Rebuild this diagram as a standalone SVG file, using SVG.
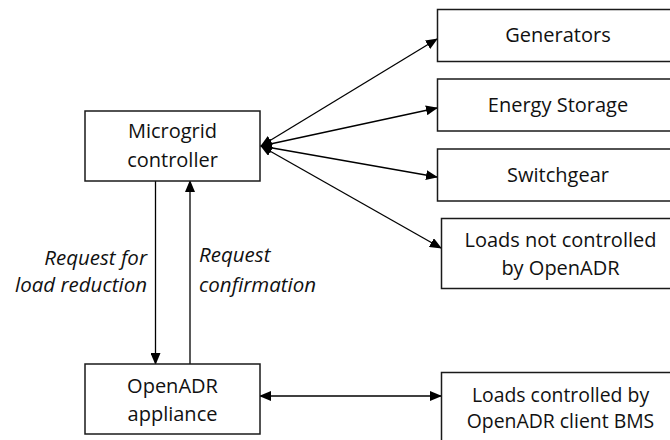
<svg xmlns="http://www.w3.org/2000/svg" width="670" height="440" viewBox="0 0 670 440">
  <style>
    .box { fill: #ffffff; stroke: #1a1a1a; stroke-width: 1.5; }
    .lbl { font-family: "Open Sans", Lato, "Liberation Sans", sans-serif; font-size: 20px; fill: #111111; text-anchor: middle; }
    .sm { font-size: 19.4px; }
    .it { font-family: "Open Sans", Lato, "Liberation Sans", sans-serif; font-size: 20.5px; font-style: italic; fill: #111111; }
    .wire { fill: none; stroke: #000000; stroke-width: 1.3; }
  </style>
  <defs>
    <marker id="tip" viewBox="0 0 12 10" refX="11" refY="5" markerWidth="12" markerHeight="10" markerUnits="userSpaceOnUse" orient="auto-start-reverse">
      <path d="M0,0 L12,5 L0,10 Z" fill="#000000"/>
    </marker>
  </defs>

  <rect width="670" height="440" fill="#ffffff"/>

  <g id="connectors">
    <line class="wire" x1="261" y1="146" x2="437" y2="39" marker-start="url(#tip)" marker-end="url(#tip)"/>
    <line class="wire" x1="261" y1="146" x2="437" y2="108" marker-start="url(#tip)" marker-end="url(#tip)"/>
    <line class="wire" x1="261" y1="146" x2="437" y2="177" marker-start="url(#tip)" marker-end="url(#tip)"/>
    <line class="wire" x1="261" y1="146" x2="441" y2="248" marker-start="url(#tip)" marker-end="url(#tip)"/>
    <line class="wire" x1="155.5" y1="181" x2="155.5" y2="364" marker-end="url(#tip)"/>
    <line class="wire" x1="190" y1="364" x2="190" y2="181" marker-end="url(#tip)"/>
    <line class="wire" x1="260" y1="396" x2="441" y2="396" marker-start="url(#tip)" marker-end="url(#tip)"/>
  </g>

  <g id="microgrid-controller">
    <rect class="box" x="85" y="111" width="175" height="70"/>
    <text class="lbl" x="172.5" y="138">Microgrid</text>
    <text class="lbl" x="172.5" y="167">controller</text>
  </g>

  <g id="generators">
    <rect class="box" x="437.5" y="9.5" width="242" height="52"/>
    <text class="lbl" x="558" y="42">Generators</text>
  </g>

  <g id="energy-storage">
    <rect class="box" x="437.5" y="79" width="242" height="52"/>
    <text class="lbl" x="558" y="111.5">Energy Storage</text>
  </g>

  <g id="switchgear">
    <rect class="box" x="437.5" y="149" width="242" height="52"/>
    <text class="lbl" x="558" y="182">Switchgear</text>
  </g>

  <g id="loads-not-controlled">
    <rect class="box" x="441.5" y="218.5" width="238" height="70"/>
    <text class="lbl" x="560.5" y="246.5">Loads not controlled</text>
    <text class="lbl" x="560.5" y="275">by OpenADR</text>
  </g>

  <g id="openadr-appliance">
    <rect class="box" x="85" y="364" width="175" height="70"/>
    <text class="lbl" x="172.5" y="393">OpenADR</text>
    <text class="lbl" x="172.5" y="421">appliance</text>
  </g>

  <g id="loads-controlled">
    <rect class="box" x="441.5" y="372.5" width="238" height="72"/>
    <text class="lbl sm" x="560.5" y="401.5">Loads controlled by</text>
    <text class="lbl sm" x="560.5" y="428">OpenADR client BMS</text>
  </g>

  <g id="flow-labels">
    <text class="it" x="147" y="265" text-anchor="end">Request for</text>
    <text class="it" x="147" y="292" text-anchor="end">load reduction</text>
    <text class="it" x="199" y="262">Request</text>
    <text class="it" x="199" y="291.5">confirmation</text>
  </g>
</svg>
